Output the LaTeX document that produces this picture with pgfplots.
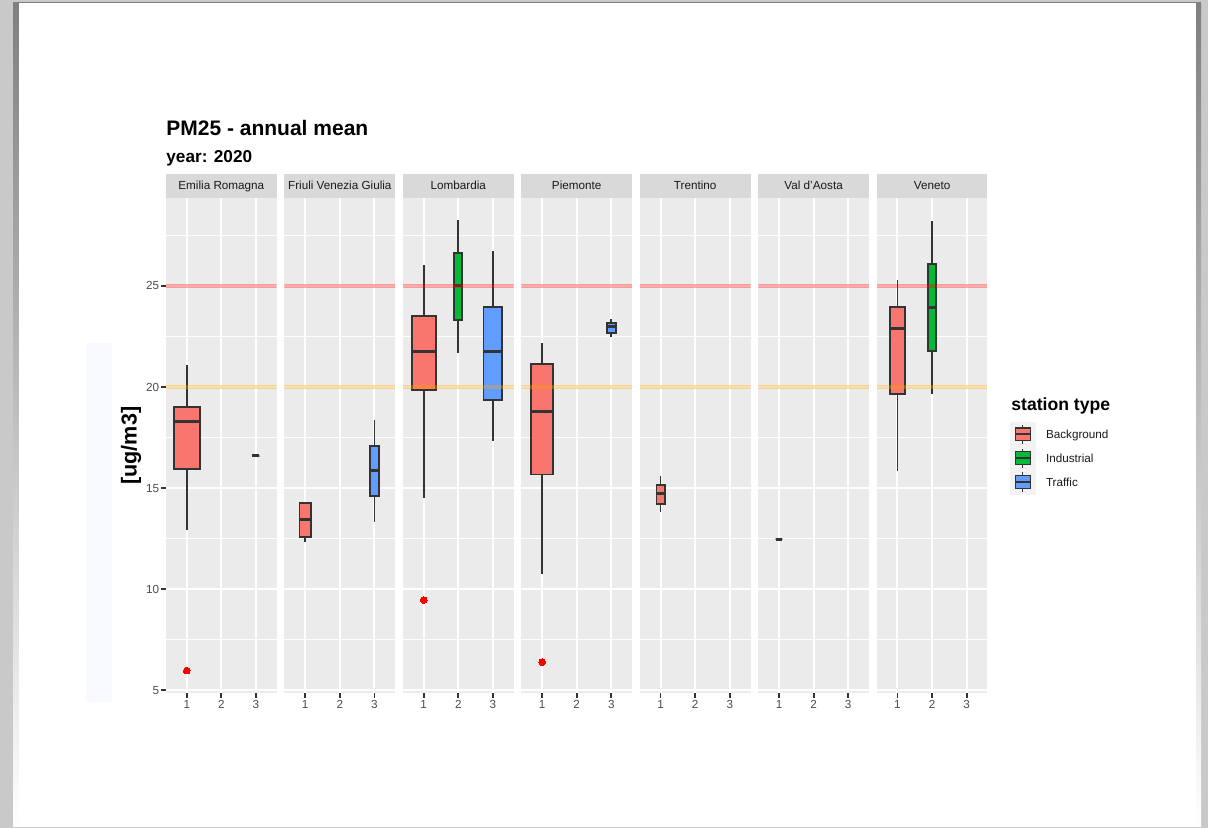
\documentclass[border=0pt]{standalone}
\usepackage{pgfplots}
\pgfplotsset{compat=1.18}
\usepgfplotslibrary{statistics}
\usepackage{fontspec}
\setmainfont{Liberation Sans}

\definecolor{bgred}{HTML}{F8766D}
\definecolor{indgreen}{HTML}{00BA38}
\definecolor{trblue}{HTML}{619CFF}
\definecolor{panelbg}{HTML}{EBEBEB}
\definecolor{stripbg}{HTML}{D9D9D9}
\definecolor{keybg}{HTML}{F2F2F2}
\definecolor{gr10}{HTML}{1A1A1A}
\definecolor{gr20}{HTML}{333333}
\definecolor{gr30}{HTML}{4D4D4D}
\definecolor{viewer}{RGB}{200,201,200}
\definecolor{shade}{RGB}{160,161,160}
\definecolor{wash}{RGB}{248,249,252}
\definecolor{limorange}{RGB}{255,165,0}

\newcommand{\smallfont}{\fontsize{5.85}{7}\selectfont}

\pgfplotsset{
  facet/.style={
    scale only axis, width=55.35pt, height=247.5pt,
    anchor=south west,
    xmin=0.4, xmax=3.6, ymin=4.86, ymax=29.35,
    axis background/.style={fill=panelbg},
    separate axis lines, axis line style={draw=none},
    xtick={1,2,3}, xticklabels={1,2,3},
    ytick={5,10,15,20,25}, yticklabels={5,10,15,20,25},
    minor ytick={7.5,12.5,17.5,22.5,27.5},
    grid=both,
    major grid style={white, line width=1pt},
    minor grid style={white, line width=0.5pt},
    tick align=outside, xtick pos=left, ytick pos=left,
    major tick length=2.4pt, minor tick length=0pt,
    tick style={gr20, line width=0.9pt},
    ticklabel style={font=\smallfont, text=gr30},
    xticklabel style={inner sep=1.2pt},
    yticklabel style={inner sep=0.8pt},
    every axis title/.style={at={(0.5,1)}, anchor=south, fill=stripbg,
      minimum width=55.35pt, minimum height=12pt, inner sep=0pt,
      text height=4.2pt, text depth=0pt, font=\smallfont, text=gr10},
    boxplot/draw direction=y,
    /pgf/number format/assume math mode=true,
  },
  inner/.style={facet, ytick style={draw=none}, yticklabels={}},
  bxp/.style={forget plot, draw=gr20, line width=0.9pt,
    mark=*, mark size=1.7pt, mark options={fill=red, draw=red, line width=0pt},
    boxplot/draw direction=y,
    boxplot/whisker extend=0,
    boxplot/every whisker/.style={draw=gr20, line width=0.9pt},
    boxplot/every median/.style={draw=gr20, line width=1.5pt}},
  bgbox/.style={bxp, boxplot/every box/.style={draw=gr20, line width=0.9pt, fill=bgred}},
  indbox/.style={bxp, boxplot/every box/.style={draw=gr20, line width=0.9pt, fill=indgreen}},
  trbox/.style={bxp, boxplot/every box/.style={draw=gr20, line width=0.9pt, fill=trblue}},
  lim25/.style={forget plot, draw=red, opacity=0.33, line width=2pt},
  lim20/.style={forget plot, draw=limorange, opacity=0.35, line width=2pt},
}

\begin{document}
\begin{tikzpicture}
\useasboundingbox (0,0) rectangle (604pt,414pt);
% viewer frame and page
\fill[viewer] (0,0) rectangle (604pt,414pt);
\fill[shade] (6.5pt,0.5pt) rectangle (600.5pt,412.8pt);
\fill[white] (9.5pt,1pt) rectangle (598pt,412.35pt);
\fill[wash] (43pt,63pt) rectangle (56pt,242.5pt);

% Emilia Romagna
\begin{axis}[facet, at={(83pt,67.5pt)}, title={Emilia Romagna}]
\addplot[bgbox, boxplot prepared={draw position=1, box extend=0.75,
  lower whisker=12.94, lower quartile=15.94, median=18.30,
  upper quartile=19.00, upper whisker=21.10}]
  coordinates {(1,5.97)};
\addplot[trbox, boxplot prepared={draw position=3, box extend=0.20,
  lower whisker=16.60, lower quartile=16.60, median=16.60,
  upper quartile=16.60, upper whisker=16.60}] coordinates {};
\addplot[lim25] coordinates {(0.4,25) (3.6,25)};
\addplot[lim20] coordinates {(0.4,20) (3.6,20)};
\end{axis}

% Friuli Venezia Giulia
\begin{axis}[inner, at={(142.225pt,67.5pt)}, title={Friuli Venezia Giulia}]
\addplot[bgbox, boxplot prepared={draw position=1, box extend=0.33,
  lower whisker=12.34, lower quartile=12.56, median=13.42,
  upper quartile=14.24, upper whisker=14.27}] coordinates {};
\addplot[trbox, boxplot prepared={draw position=3, box extend=0.25,
  lower whisker=13.30, lower quartile=14.59, median=15.86,
  upper quartile=17.09, upper whisker=18.38}] coordinates {};
\addplot[lim25] coordinates {(0.4,25) (3.6,25)};
\addplot[lim20] coordinates {(0.4,20) (3.6,20)};
\end{axis}

% Lombardia
\begin{axis}[inner, at={(201.45pt,67.5pt)}, title={Lombardia}]
\addplot[bgbox, boxplot prepared={draw position=1, box extend=0.69,
  lower whisker=14.49, lower quartile=19.85, median=21.77,
  upper quartile=23.51, upper whisker=26.02}]
  coordinates {(1,9.46)};
\addplot[indbox, boxplot prepared={draw position=2, box extend=0.23,
  lower whisker=21.69, lower quartile=23.30, median=25.00,
  upper quartile=26.63, upper whisker=28.24}] coordinates {};
\addplot[trbox, boxplot prepared={draw position=3, box extend=0.54,
  lower whisker=17.35, lower quartile=19.36, median=21.77,
  upper quartile=23.96, upper whisker=26.72}] coordinates {};
\addplot[lim25] coordinates {(0.4,25) (3.6,25)};
\addplot[lim20] coordinates {(0.4,20) (3.6,20)};
\end{axis}

% Piemonte
\begin{axis}[inner, at={(260.675pt,67.5pt)}, title={Piemonte}]
\addplot[bgbox, boxplot prepared={draw position=1, box extend=0.62,
  lower whisker=10.73, lower quartile=15.67, median=18.77,
  upper quartile=21.15, upper whisker=22.17}]
  coordinates {(1,6.39)};
\addplot[trbox, boxplot prepared={draw position=3, box extend=0.25,
  lower whisker=22.49, lower quartile=22.69, median=22.97,
  upper quartile=23.18, upper whisker=23.35}] coordinates {};
\addplot[lim25] coordinates {(0.4,25) (3.6,25)};
\addplot[lim20] coordinates {(0.4,20) (3.6,20)};
\end{axis}

% Trentino
\begin{axis}[inner, at={(319.9pt,67.5pt)}, title={Trentino}]
\addplot[bgbox, boxplot prepared={draw position=1, box extend=0.24,
  lower whisker=13.80, lower quartile=14.23, median=14.72,
  upper quartile=15.15, upper whisker=15.58}] coordinates {};
\addplot[lim25] coordinates {(0.4,25) (3.6,25)};
\addplot[lim20] coordinates {(0.4,20) (3.6,20)};
\end{axis}

% Val d'Aosta
\begin{axis}[inner, at={(379.125pt,67.5pt)}, title={Val d'Aosta}]
\addplot[bgbox, boxplot prepared={draw position=1, box extend=0.19,
  lower whisker=12.46, lower quartile=12.46, median=12.46,
  upper quartile=12.46, upper whisker=12.46}] coordinates {};
\addplot[lim25] coordinates {(0.4,25) (3.6,25)};
\addplot[lim20] coordinates {(0.4,20) (3.6,20)};
\end{axis}

% Veneto, with the legend of station types
\begin{axis}[inner, at={(438.35pt,67.5pt)}, title={Veneto},
  legend image code/.code={
    \fill[keybg] (0pt,-6pt) rectangle (12.5pt,6pt);
    \draw[gr20, line width=0.5pt] (6.25pt,-4.8pt) -- (6.25pt,4.8pt);
    \draw[#1, draw=gr20, line width=0.6pt] (2.4pt,-3.2pt) rectangle (10.1pt,3.2pt);
    \draw[gr20, line width=1pt] (2.4pt,0pt) -- (10.1pt,0pt);
  },
  legend cell align=left,
  legend style={at={(1.2042,0.5475)}, anchor=north west, draw=none, fill=none,
    inner sep=0pt, outer sep=0pt, row sep=-0.5pt, column sep=4.6pt,
    font=\smallfont, text=gr10,
    nodes={inner sep=0.5pt, text height=4.2pt, text depth=0pt}},
]
\addlegendimage{fill=bgred}
\addlegendentry{Background}
\addlegendimage{fill=indgreen}
\addlegendentry{Industrial}
\addlegendimage{fill=trblue}
\addlegendentry{Traffic}
\addplot[bgbox, boxplot prepared={draw position=1, box extend=0.43,
  lower whisker=15.84, lower quartile=19.66, median=22.90,
  upper quartile=23.96, upper whisker=25.28}] coordinates {};
\addplot[indbox, boxplot prepared={draw position=2, box extend=0.23,
  lower whisker=19.66, lower quartile=21.76, median=23.91,
  upper quartile=26.08, upper whisker=28.21}] coordinates {};
\addplot[lim25] coordinates {(0.4,25) (3.6,25)};
\addplot[lim20] coordinates {(0.4,20) (3.6,20)};
\end{axis}

% titles and axis label
\node[anchor=base west, inner sep=0pt, font=\bfseries\fontsize{10.5}{12}\selectfont]
  at (83pt,346pt) {PM25 - annual mean};
\node[anchor=base west, inner sep=0pt, font=\bfseries\fontsize{8.6}{10}\selectfont]
  at (83pt,332.65pt) {year: 2020};
\node[rotate=90, inner sep=0pt, font=\bfseries\fontsize{10.8}{12}\selectfont]
  at (65.6pt,191.1pt) {[ug/m3]};
\node[anchor=base west, inner sep=0pt, font=\bfseries\fontsize{8.8}{10}\selectfont]
  at (505.5pt,208.65pt) {station type};
\end{tikzpicture}
\end{document}
